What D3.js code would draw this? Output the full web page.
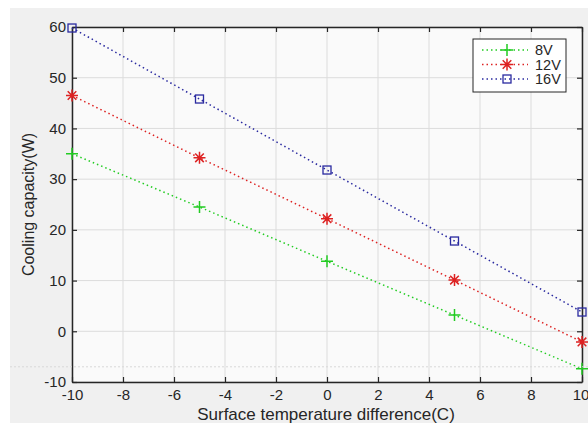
<!DOCTYPE html>
<html>
<head>
<meta charset="utf-8">
<script src="https://cdn.jsdelivr.net/npm/d3@7"></script>
<style>
  body { margin: 0; background: #fff; }
  text { font-family: "Liberation Sans", Arial, sans-serif; fill: #262626; }
</style>
</head>
<body>
<div id="chart"></div>
<script>
// data
var xValues = [-10, -5, 0, 5, 10];
var v8  = [35.0, 24.5, 13.8, 3.2, -7.4];
var v12 = [46.5, 34.2, 22.2, 10.1, -2.1];
var v16 = [59.8, 45.8, 31.8, 17.8, 3.8];
var seriesNames = ["8V", "12V", "16V"];
var xTicks = [-10, -8, -6, -4, -2, 0, 2, 4, 6, 8, 10];
var yTicks = [-10, 0, 10, 20, 30, 40, 50, 60];

var series = [
  {name: seriesNames[0], values: v8,  color: "#22cc22", marker: "plus"},
  {name: seriesNames[1], values: v12, color: "#dd2222", marker: "star"},
  {name: seriesNames[2], values: v16, color: "#2a2aa0", marker: "square"}
];

var W = 588, H = 423;
var margin = {top: 27, right: 6, bottom: 41, left: 72},
    width = W - margin.left - margin.right,
    height = H - margin.top - margin.bottom;

var svg = d3.select("#chart").append("svg")
    .attr("width", W).attr("height", H);

// figure background
svg.append("rect").attr("x", 10).attr("y", 8)
   .attr("width", W - 10).attr("height", H - 8).attr("fill", "#f0f0f0");

var g = svg.append("g")
    .attr("transform", "translate(" + margin.left + "," + margin.top + ")");

g.append("rect").attr("width", width).attr("height", height).attr("fill", "#fafafa");

var x = d3.scaleLinear().domain([-10, 10]).range([0, width]);
var y = d3.scaleLinear().domain([-10, 60]).range([height, 0]);

// grid
g.selectAll(".gx").data(xTicks).enter().append("line")
  .attr("x1", d => x(d)).attr("x2", d => x(d))
  .attr("y1", 0).attr("y2", height)
  .attr("stroke", "#dcdcdc").attr("stroke-width", 1);
g.selectAll(".gy").data(yTicks).enter().append("line")
  .attr("y1", d => y(d)).attr("y2", d => y(d))
  .attr("x1", 0).attr("x2", width)
  .attr("stroke", "#dcdcdc").attr("stroke-width", 1);

// axes (ticks inward, box)
var tickLen = -5;
var fmt = d => String(d);
var xAxis = g.append("g").attr("transform", "translate(0," + height + ")")
  .call(d3.axisBottom(x).tickValues(xTicks).tickSizeInner(tickLen).tickSizeOuter(0).tickPadding(7).tickFormat(fmt));
var xTop = g.append("g")
  .call(d3.axisTop(x).tickValues(xTicks).tickSizeInner(tickLen).tickSizeOuter(0).tickFormat(""));
var yAxis = g.append("g")
  .call(d3.axisLeft(y).tickValues(yTicks).tickSizeInner(tickLen).tickSizeOuter(0).tickPadding(6).tickFormat(fmt));
var yRight = g.append("g").attr("transform", "translate(" + width + ",0)")
  .call(d3.axisRight(y).tickValues(yTicks).tickSizeInner(tickLen).tickSizeOuter(0).tickFormat(""));

[xAxis, xTop, yAxis, yRight].forEach(function(a) {
  a.select(".domain").attr("stroke", "#262626").attr("stroke-width", 1.5);
  a.selectAll(".tick line").attr("stroke", "#262626").attr("stroke-width", 1.2);
  a.selectAll("text").attr("font-size", 15).attr("fill", "#262626")
    .attr("font-family", "'Liberation Sans', Arial, sans-serif");
});
// keep the last x label inside the figure
xAxis.selectAll(".tick text").filter(d => d === 10).attr("dx", "-0.1em");

// faint artefact line across the figure
svg.append("line").attr("x1", 10).attr("x2", W)
  .attr("y1", margin.top + y(-7)).attr("y2", margin.top + y(-7))
  .attr("stroke", "#d8d8d8").attr("stroke-dasharray", "2,2");

// markers
function drawMarker(sel, type, color) {
  if (type === "plus") {
    sel.append("path").attr("d", "M-6,0H6M0,-6V6")
      .attr("stroke", color).attr("stroke-width", 1.5).attr("fill", "none");
  } else if (type === "star") {
    sel.append("path").attr("d", "M-6,0H6M0,-6V6M-4.3,-4.3L4.3,4.3M-4.3,4.3L4.3,-4.3")
      .attr("stroke", color).attr("stroke-width", 1.5).attr("fill", "none");
  } else {
    sel.append("rect").attr("x", -4).attr("y", -4).attr("width", 8).attr("height", 8)
      .attr("stroke", color).attr("stroke-width", 1.3).attr("fill", "none");
  }
}

var line = d3.line().x((d, i) => x(xValues[i])).y(d => y(d));

series.forEach(function(s) {
  g.append("path").datum(s.values)
    .attr("d", line)
    .attr("fill", "none")
    .attr("stroke", s.color)
    .attr("stroke-width", 1.5)
    .attr("stroke-dasharray", "1.5,3");
  s.values.forEach(function(v, i) {
    var m = g.append("g").attr("transform", "translate(" + x(xValues[i]) + "," + y(v) + ")");
    drawMarker(m, s.marker, s.color);
  });
});

// legend
var lg = svg.append("g").attr("transform", "translate(473,39)");
lg.append("rect").attr("width", 93).attr("height", 53)
  .attr("fill", "#fff").attr("stroke", "#262626").attr("stroke-width", 1);
series.forEach(function(s, i) {
  var ly = 11 + i * 14.5;
  lg.append("line").attr("x1", 9).attr("x2", 55).attr("y1", ly).attr("y2", ly)
    .attr("stroke", s.color).attr("stroke-width", 1.3).attr("stroke-dasharray", "1.5,3");
  var m = lg.append("g").attr("transform", "translate(34," + ly + ")");
  drawMarker(m, s.marker, s.color);
  lg.append("text").attr("x", 62).attr("y", ly).attr("dy", "0.36em")
    .attr("font-size", 14.5).text(s.name);
});

// axis labels
svg.append("text")
  .attr("x", 326).attr("y", 420)
  .attr("text-anchor", "middle").attr("font-size", 17)
  .text("Surface temperature difference(C)");
svg.append("text")
  .attr("transform", "translate(34," + (margin.top + height / 2) + ") rotate(-90)")
  .attr("text-anchor", "middle").attr("font-size", 16)
  .text("Cooling capacity(W)");
</script>
</body>
</html>
